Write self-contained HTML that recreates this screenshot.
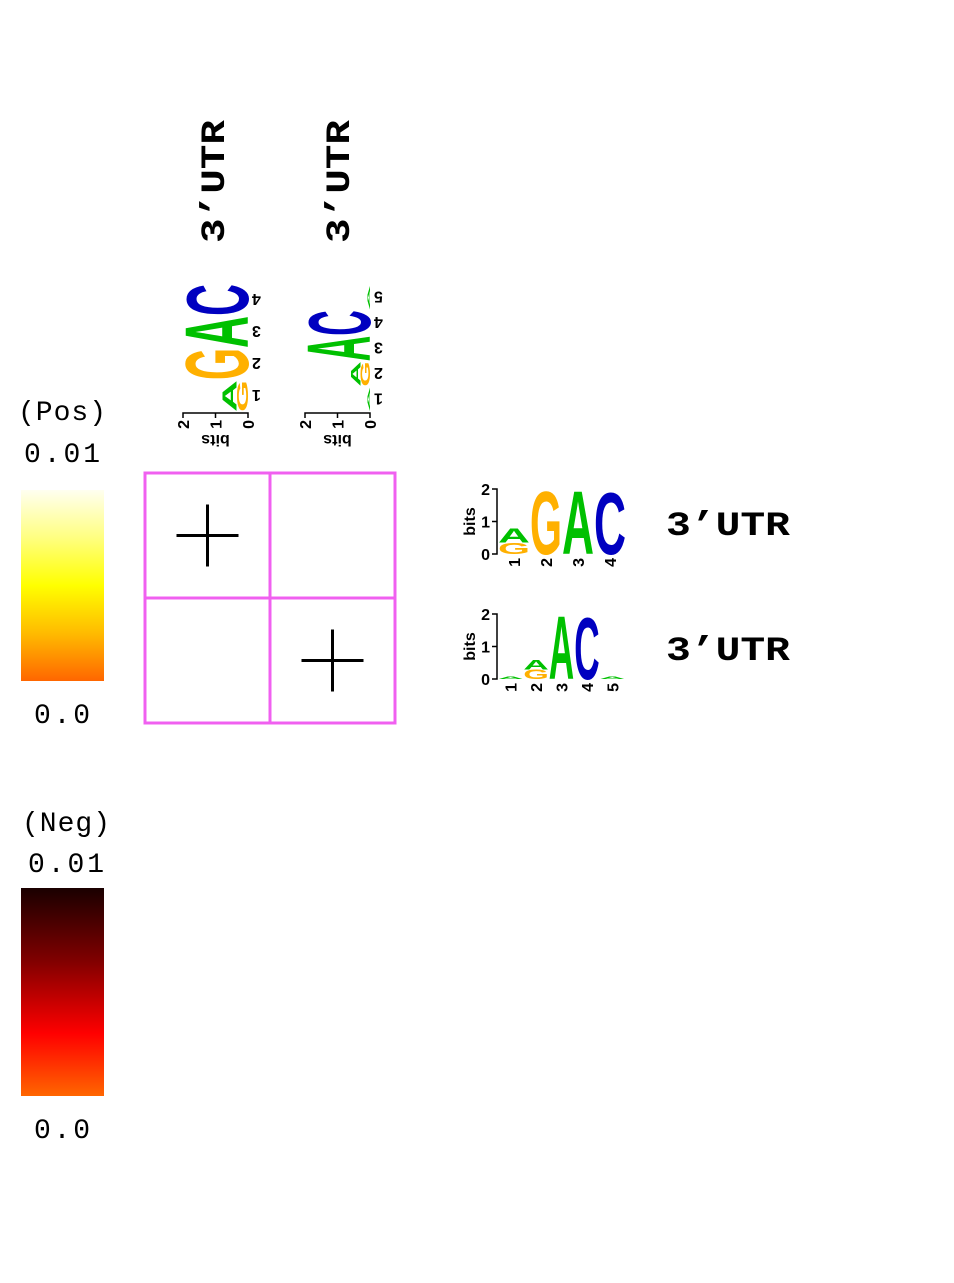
<!DOCTYPE html>
<html><head><meta charset="utf-8"><style>
html,body{margin:0;padding:0;background:#fff;}
svg{display:block}
.mono{font-family:"Liberation Mono","DejaVu Sans Mono",monospace;}
</style></head><body>
<svg id="s" width="954" height="1283" viewBox="0 0 954 1283" xmlns="http://www.w3.org/2000/svg">
<defs>
<linearGradient id="gpos" x1="0" y1="0" x2="0" y2="1">
<stop offset="0" stop-color="#fffff0"/><stop offset="0.25" stop-color="#ffff80"/><stop offset="0.5" stop-color="#ffff00"/><stop offset="0.75" stop-color="#ffbb00"/><stop offset="1" stop-color="#ff6600"/>
</linearGradient>
<linearGradient id="gneg" x1="0" y1="0" x2="0" y2="1">
<stop offset="0" stop-color="#1a0000"/><stop offset="0.35" stop-color="#800000"/><stop offset="0.7" stop-color="#ff0000"/><stop offset="1" stop-color="#ff6600"/>
</linearGradient>
</defs>
<g class="mono" font-size="28" fill="#000" lengthAdjust="spacing">
<text x="18" y="420" textLength="88">(Pos)</text>
<text x="24" y="462" textLength="76">0.01</text>
<rect x="21" y="490" width="83" height="191" fill="url(#gpos)"/>
<text x="34" y="723" textLength="56">0.0</text>
<text x="22" y="831" textLength="88">(Neg)</text>
<text x="28" y="872" textLength="76">0.01</text>
<rect x="21" y="888" width="83" height="208" fill="url(#gneg)"/>
<text x="34" y="1138" textLength="56">0.0</text>
</g>
<g font-family="'Liberation Mono',monospace" font-weight="bold" font-size="34" fill="#000">
<text transform="translate(224,243) rotate(-90)" textLength="123" lengthAdjust="spacingAndGlyphs">3’UTR</text>
<text transform="translate(349,243) rotate(-90)" textLength="123" lengthAdjust="spacingAndGlyphs">3’UTR</text>
<text x="666" y="535" textLength="124" lengthAdjust="spacingAndGlyphs">3’UTR</text>
<text x="666" y="660" textLength="124" lengthAdjust="spacingAndGlyphs">3’UTR</text>
</g>
<g id="grid"></g>
<g id="logos"></g>
</svg>
<script>
// heatmap data: 1 = significant (plus sign)
const rows = ["3'UTR a","3'UTR b"];
const cols = ["3'UTR a","3'UTR b"];
const sig = [[1,0],[0,1]];
// logo data (bits per letter, bottom to top)
const logo1Cols = [[["G",0.35],["A",0.45]],[["G",2.0]],[["A",2.0]],[["C",1.95]]];
const logo2Cols = [[["A",0.08]],[["G",0.3],["A",0.3]],[["A",2.0]],[["C",1.95]],[["A",0.08]]];

const NS="http://www.w3.org/2000/svg";
const svg=document.getElementById('s');
function mk(t,a,p){const e=document.createElementNS(NS,t);for(const k in a)e.setAttribute(k,a[k]);(p||svg).appendChild(e);return e;}

const grid=document.getElementById('grid');
const gx0=145,gy0=473,cw=125,ch=125;
sig.forEach((r,i)=>r.forEach((v,j)=>{
  const c=mk('rect',{x:gx0+j*cw,y:gy0+i*ch,width:cw,height:ch,fill:'#fff',stroke:'#f060f0','stroke-width':3},grid);
  
  
  if(v){const cx=gx0+j*cw+cw/2,cy=gy0+i*ch+ch/2;
    const p=mk('path',{d:`M${cx-31} ${cy}H${cx+31}M${cx} ${cy-31}V${cy+31}`,stroke:'#000','stroke-width':3},grid);
    
    }
}));

const colors={A:'#00c000',C:'#0000c0',G:'#ffb000',T:'#d00000'};
const bitPx=32.5;
function drawLogo(data,colW,ox,oy,transform,name){
  const g=mk('g',{transform:transform},document.getElementById('logos'));
  
  
  mk('path',{d:`M${ox-5} ${oy}H${ox}V${oy-2*bitPx}H${ox-5}M${ox-5} ${oy-bitPx}H${ox}`,stroke:'#000','stroke-width':1.5,fill:'none'},g);
  [0,1,2].forEach(v=>{const t=mk('text',{x:ox-7,y:oy-v*bitPx+6,'text-anchor':'end','font-family':'Liberation Sans,sans-serif','font-weight':'bold','font-size':16},g);t.textContent=v;});
  const bt=mk('text',{transform:`translate(${ox-22},${oy-bitPx}) rotate(-90)`,'text-anchor':'middle','font-family':'Liberation Sans,sans-serif','font-weight':'bold','font-size':16},g);bt.textContent='bits';
  data.forEach((col,i)=>{
    const x=ox+1+i*colW;let y=oy;
    col.forEach(([L,b])=>{const h=b*bitPx;
      const t=mk('text',{transform:`translate(${x},${y}) scale(${colW/70},${h/72})`,'font-family':'Liberation Sans,sans-serif','font-weight':'bold','font-size':100,textLength:70,lengthAdjust:'spacingAndGlyphs',fill:colors[L]},g);
      t.textContent=L;y-=h;});
    const n=mk('text',{transform:`translate(${x+colW/2+6},${oy+4}) rotate(-90)`,'text-anchor':'end','font-family':'Liberation Sans,sans-serif','font-weight':'bold','font-size':16},g);n.textContent=i+1;
  });
}
drawLogo(logo1Cols,32,497,554,'','row-logo-1');
drawLogo(logo2Cols,25.4,497,679,'','row-logo-2');
drawLogo(logo1Cols,32,497,554,'translate(-306,910) rotate(-90)','column-logo-1');
drawLogo(logo2Cols,25.4,497,679,'translate(-309,910) rotate(-90)','column-logo-2');
</script>
</body></html>
